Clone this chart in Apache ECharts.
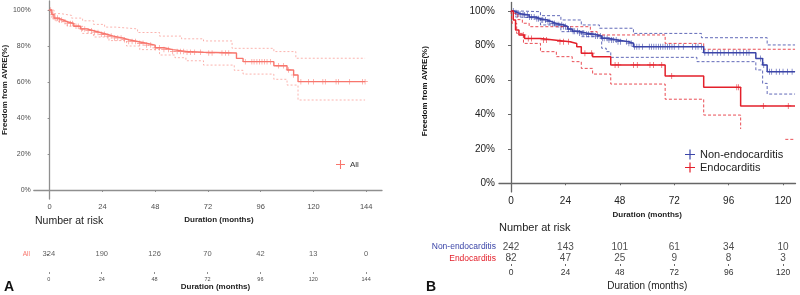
<!DOCTYPE html>
<html lang="en">
<head>
<meta charset="UTF-8">
<title>Freedom from AVRE</title>
<script src="https://cdn.jsdelivr.net/npm/echarts@6/dist/echarts.min.js"></script>
<style>html,body{margin:0;padding:0;background:#fff;}</style>
</head>
<body>
<div id="main" style="width:800px;height:295px;"></div>
<script>
// ---- panel A : all patients ----
var allTime  = [0, 1, 2, 4, 6, 8, 11, 14, 17, 20, 23, 26, 29, 33, 36, 40, 44, 48, 52, 56, 62, 70, 85, 88, 102, 108, 111, 113, 143.5];
var allSurv  = [100, 97.5, 95.5, 94.5, 93.5, 92.5, 91, 89.5, 88.5, 87.5, 86.5, 85.5, 84.5, 83.5, 82.5, 81.5, 80.5, 79, 78, 77, 76.5, 76.1, 73.1, 71.3, 69, 66.7, 63.9, 60.2, 60.2];
var allUpT   = [0, 2, 5, 10, 15, 20, 25, 30, 40, 50, 60, 70, 83, 102, 112, 143.5];
var allUp    = [100, 98, 97, 95.5, 94, 92, 90.5, 89.5, 87.5, 85.5, 84, 82.8, 78.7, 76.9, 73.2, 73.2];
var allLoT   = [0, 1, 3, 8, 15, 20, 27, 35, 41, 50, 57, 62, 70, 84, 88, 102, 108, 113, 143.5];
var allLo    = [100, 95, 93.5, 91, 87, 85, 83, 80, 78, 75, 73.5, 71.8, 69.4, 66.5, 64.4, 61.5, 58.3, 50, 50];
var allCens  = [0.5, 1.5, 2.5, 3.5, 4.5, 5.5, 7, 8, 9.5, 10.5, 12, 13, 14.5, 16, 17.5, 19, 20.5, 22, 23.5, 25, 26.5, 28, 29.5, 31, 32.5, 34, 36, 37.5, 39, 41, 42.5, 44, 46, 48, 50, 52, 54, 56, 58,
                59.5, 61, 62.5, 64, 66, 68.6, 72.4, 73.9, 78.4, 80, 81.5, 89, 92, 93, 94.3, 95.5, 96.6, 97.7, 98.9, 100.4, 104.2, 106.4, 108.7, 111, 114.3, 117.8, 120.1, 124.3, 125.4, 130.3, 131.4, 136.5, 142.3, 143.5];
var riskTimeA = [0, 24, 48, 72, 96, 120, 144];
var riskAll   = [324, 190, 126, 70, 42, 13, 0];

// ---- panel B : by group ----
var nonTime = [0, 1.5, 3, 5, 8, 11, 13, 16, 18, 20, 23, 25, 27, 30, 33, 37, 40, 43, 47, 52, 54, 85, 108, 111, 113, 125.3];
var nonSurv = [100, 99, 98.2, 97.7, 96.5, 95.5, 94.8, 93.8, 92.8, 92, 91, 89.5, 88.3, 87.3, 86.5, 85.5, 84.2, 83.2, 82.2, 81.3, 79.3, 75.8, 72.5, 68.7, 64.8, 64.8];
var nonUpT  = [0, 4, 13, 22, 31, 39, 54, 84, 113, 125.3];
var nonUp   = [100, 99.6, 97.3, 94.8, 91.9, 90, 87, 84.5, 80.3, 80.3];
var nonLoT  = [0, 2, 4, 13, 22, 31, 40, 42, 44, 82, 108, 111, 113, 125.3];
var nonLo   = [100, 96.5, 95.8, 91.9, 88, 85.1, 78.4, 76.4, 73.1, 70.6, 65.8, 58, 51.8, 51.8];
var nonCens = [1, 2.2, 3.1, 4, 5.3, 6, 7.2, 8.1, 9, 10.2, 11.4, 12.1, 13.3, 14, 15.2, 16.3, 17.1, 18.4, 19.2, 20.3, 21.1, 22.4, 23.2, 24.1, 25.3, 26.2, 27.4, 28.1, 29.3, 30.2, 31.4, 32.1, 33.3, 34.2, 35.4, 36.1, 37.3, 38.2, 39.4, 40.3, 41.1, 42.4, 43.2, 44.3, 45.1, 46.4, 47.2, 48.3,
               51, 52, 53, 54.5, 55.5, 56.5, 58, 61, 62, 63, 64, 65, 66, 67, 68, 69, 70, 71, 72, 74, 76, 80, 81.5, 82.5, 84, 85.5, 87, 89, 91, 92.5, 94, 96, 98, 99.5, 101, 102.5, 104, 105, 110, 111.5, 114, 115, 117, 118.5, 120, 122, 124];
var endoTime = [0, 1, 2, 3.5, 6, 13, 19, 26, 29, 31, 36, 44, 68, 85, 101.3, 125.3];
var endoSurv = [100, 94.8, 89, 86.1, 84, 83.2, 82.2, 81.2, 79.3, 75.5, 73.5, 68.7, 62.3, 55.7, 44.9, 44.9];
var endoUpT  = [0, 1, 3, 5, 8, 35, 38, 68, 85, 125.3];
var endoUp   = [100, 98.7, 95, 92.9, 90.9, 88, 86.1, 81.2, 77.8, 77.8];
var endoLoT  = [0, 0.5, 2.5, 5.5, 13, 20, 27, 31, 36, 44, 68, 85, 101.3, 101.3, 121, 125.3];
var endoLo   = [100, 92.9, 87, 81.2, 76.4, 73.5, 70.6, 66.7, 63.4, 57.6, 48.8, 39.6, 31.5, '-', 25.5, 25.5];
var endoCens = [5.4, 7.6, 9.1, 14.3, 15.7, 21.6, 23.1, 25.3, 32.6, 35.6, 45.9, 47.3, 54, 55.7, 61.3, 62.8, 66.5, 70.9, 99.6, 100.3, 111.3, 122.3];
var riskTimeB = [0, 24, 48, 72, 96, 120];
var riskNon   = [242, 143, 101, 61, 34, 10];
var riskEndo  = [82, 47, 25, 9, 8, 3];

var pctTicks = [0, 20, 40, 60, 80, 100];
var monTicksA = [0, 24, 48, 72, 96, 120, 144];
var monTicksB = [0, 24, 48, 72, 96, 120];

var cA = '#F8766D', cNon = '#3B45A8', cEndo = '#E3202B';
var plus = 'path://M4.4,0H5.6V4.4H10V5.6H5.6V10H4.4V5.6H0V4.4H4.4Z';

function zip(t, s) { return t.map(function (v, i) { return [v, s[i]]; }); }
function censPts(c, t, s) {
    return c.map(function (x) {
        var k = 0;
        for (var i = 0; i < t.length; i++) if (t[i] <= x) k = i;
        return [x, s[k]];
    });
}
function riskPts(times, row, vals) { return times.map(function (t, i) { return [t, row, vals[i]]; }); }

function curve(name, data, color, ax, w) {
    return { name: name, type: 'line', step: 'end', data: data, xAxisIndex: ax, yAxisIndex: ax,
        symbol: 'none', silent: true, lineStyle: { color: color, width: w }, itemStyle: { color: color } };
}
function ci(name, data, color, ax, dash, op) {
    return { name: name, type: 'line', step: 'end', data: data, xAxisIndex: ax, yAxisIndex: ax,
        symbol: 'none', silent: true, lineStyle: { color: color, width: 1, type: dash, opacity: op } };
}
function marks(name, data, color, ax, size) {
    return { name: name, type: 'scatter', data: data, xAxisIndex: ax, yAxisIndex: ax,
        symbol: plus, symbolSize: size, itemStyle: { color: color } };
}
function riskRow(data, ax, size, color) {
    return { type: 'scatter', data: data, xAxisIndex: ax, yAxisIndex: ax, symbolSize: 0, silent: true,
        label: { show: true, position: 'inside', fontSize: size, color: color,
            formatter: function (p) { return p.value[2]; } } };
}

var font = 'Liberation Sans, Arial, sans-serif';
var greyA = '#8f8f8f', greyB = '#666';

function mainX(grid, min, max, ticks, fs, col, line) {
    return { type: 'value', gridIndex: grid, min: min, max: max,
        axisLine: { show: true, lineStyle: { color: line, width: 1.3 } },
        axisTick: { show: true, length: 2, customValues: ticks, lineStyle: { color: line } },
        axisLabel: { customValues: ticks, fontSize: fs, color: col, margin: 4, fontFamily: font },
        splitLine: { show: false },
        name: 'Duration (months)', nameLocation: 'middle', nameGap: 14,
        nameTextStyle: { fontSize: 8, fontWeight: 'bold', color: '#222', fontFamily: font } };
}

var option = {
    animation: false,
    textStyle: { fontFamily: font },
    grid: [
        { left: 33, top: 1, width: 349, height: 198 },
        { left: 33, top: 236, width: 349, height: 36 },
        { left: 499, top: 2.4, width: 296.5, height: 189.5 },
        { left: 499, top: 241, width: 296.5, height: 23 }
    ],
    title: [
        { text: 'Number at risk', left: 35, top: 216, padding: 0, textStyle: { fontSize: 10.5, fontWeight: 'normal', color: '#222' } },
        { text: 'Number at risk', left: 499, top: 222, padding: 0, textStyle: { fontSize: 11, fontWeight: 'normal', color: '#222' } },
        { text: 'A', left: 4, top: 280, padding: 0, textStyle: { fontSize: 14, fontWeight: 'bold', color: '#111' } },
        { text: 'B', left: 426, top: 280, padding: 0, textStyle: { fontSize: 14, fontWeight: 'bold', color: '#111' } }
    ],
    legend: [
        { data: ['All'], left: 336, top: 160, icon: plus, itemWidth: 9, itemHeight: 9, itemGap: 4, padding: 0,
          textStyle: { fontSize: 8, color: '#333' }, selectedMode: false },
        { data: ['Non-endocarditis', 'Endocarditis'], orient: 'vertical', left: 685, top: 149, icon: plus,
          itemWidth: 10, itemHeight: 10, itemGap: 2, padding: 0, textStyle: { fontSize: 11, color: '#222' }, selectedMode: false }
    ],
    xAxis: [
        Object.assign(mainX(0, -7.2, 151.2, monTicksA, 7.5, '#4d4d4d', greyA), {
            nameTextStyle: { fontSize: 8, fontWeight: 'bold', color: '#222', padding: [0, 0, 0, 22] } }),
        Object.assign(mainX(1, -7.2, 151.2, monTicksA, 5.5, '#4d4d4d', greyA), {
            axisLine: { show: false }, nameGap: 11,
            nameTextStyle: { fontSize: 8, fontWeight: 'bold', color: '#222', padding: [0, 0, 0, 16] } }),
        mainX(2, -5.3, 125.5, monTicksB, 10, '#222', greyB),
        Object.assign(mainX(3, -5.3, 125.5, monTicksB, 8.5, '#333', greyB), {
            axisLine: { show: false }, nameGap: 17,
            nameTextStyle: { fontSize: 10, color: '#222' } })
    ],
    yAxis: [
        { type: 'value', gridIndex: 0, min: -5, max: 105,
          axisLine: { show: true, lineStyle: { color: greyA, width: 1.3 } },
          axisTick: { show: true, length: 2, customValues: pctTicks, lineStyle: { color: greyA } },
          axisLabel: { customValues: pctTicks, formatter: '{value}%', fontSize: 7, color: '#4d4d4d', margin: 3 },
          splitLine: { show: false },
          name: 'Freedom from AVRE(%)', nameLocation: 'middle', nameRotate: 90, nameGap: 22,
          nameTextStyle: { fontSize: 8, fontWeight: 'bold', color: '#222', padding: [0, 0, 0, 20] } },
        { type: 'category', gridIndex: 1, data: ['All'], inverse: true,
          axisLine: { show: false },
          axisTick: { show: true, alignWithLabel: true, length: 2, lineStyle: { color: '#777' } },
          axisLabel: { fontSize: 6.5, color: cA, margin: 3 } },
        { type: 'value', gridIndex: 2, min: -5, max: 105,
          axisLine: { show: true, lineStyle: { color: greyB, width: 1.3 } },
          axisTick: { show: true, length: 3, customValues: pctTicks, lineStyle: { color: greyB } },
          axisLabel: { customValues: pctTicks, formatter: '{value}%', fontSize: 10, color: '#222', margin: 4 },
          splitLine: { show: false },
          name: 'Freedom from AVRE(%)', nameLocation: 'middle', nameRotate: 90, nameGap: 70,
          nameTextStyle: { fontSize: 8, fontWeight: 'bold', color: '#111', padding: [0, 0, 0, 12] } },
        { type: 'category', gridIndex: 3, data: ['Non-endocarditis', 'Endocarditis'], inverse: true,
          axisLine: { show: false },
          axisTick: { show: true, alignWithLabel: true, interval: 0, length: 2, lineStyle: { color: '#555' } },
          axisLabel: { fontSize: 8.5, margin: 3, interval: 0, hideOverlap: false,
                       color: function (v) { return v === 'Endocarditis' ? cEndo : cNon; } } }
    ],
    series: [
        ci('All CI', zip(allUpT, allUp), cA, 0, [2, 2], 0.55),
        ci('All CI', zip(allLoT, allLo), cA, 0, [2, 2], 0.55),
        curve('All', zip(allTime, allSurv), cA, 0, 1.4),
        marks('All', censPts(allCens, allTime, allSurv), cA, 0, 5.5),
        riskRow(riskPts(riskTimeA, 'All', riskAll), 1, 7.5, '#333'),

        ci('Non CI', zip(nonUpT, nonUp), cNon, 2, [3, 2], 0.8),
        ci('Non CI', zip(nonLoT, nonLo), cNon, 2, [3, 2], 0.8),
        ci('Endo CI', zip(endoUpT, endoUp), cEndo, 2, [3, 2], 0.8),
        ci('Endo CI', zip(endoLoT, endoLo), cEndo, 2, [3, 2], 0.8),
        curve('Non-endocarditis', zip(nonTime, nonSurv), cNon, 2, 1.5),
        curve('Endocarditis', zip(endoTime, endoSurv), cEndo, 2, 1.5),
        marks('Non-endocarditis', censPts(nonCens, nonTime, nonSurv), cNon, 2, 6),
        marks('Endocarditis', censPts(endoCens, endoTime, endoSurv), cEndo, 2, 6),
        riskRow(riskPts(riskTimeB, 'Non-endocarditis', riskNon), 3, 10, '#222'),
        riskRow(riskPts(riskTimeB, 'Endocarditis', riskEndo), 3, 10, '#222')
    ]
};

var myChart = echarts.init(document.getElementById('main'));
myChart.setOption(option);
</script>
</body>
</html>
